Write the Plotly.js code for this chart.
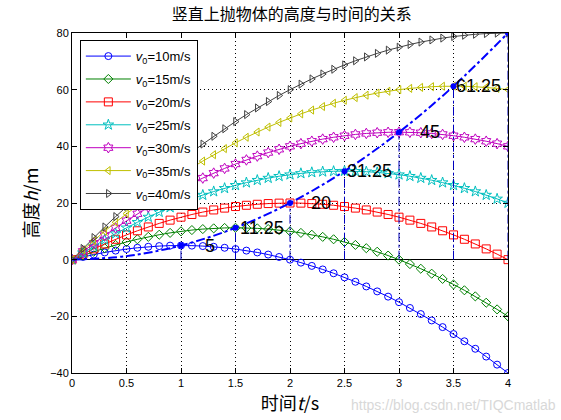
<!DOCTYPE html>
<html><head><meta charset="utf-8">
<script src="https://cdn.plot.ly/plotly-3.0.1.min.js"></script>
<style>html,body{margin:0;padding:0;background:#fff}#chart{width:561px;height:420px}</style>
</head><body><div id="chart"></div>
<script>
const t = [0,0.1,0.2,0.3,0.4,0.5,0.6,0.7,0.8,0.9,1,1.1,1.2,1.3,1.4,1.5,1.6,1.7,1.8,1.9,2,2.1,2.2,2.3,2.4,2.5,2.6,2.7,2.8,2.9,3,3.1,3.2,3.3,3.4,3.5,3.6,3.7,3.8,3.9,4];
const h10 = [0,0.95,1.8,2.55,3.2,3.75,4.2,4.55,4.8,4.95,5,4.95,4.8,4.55,4.2,3.75,3.2,2.55,1.8,0.95,0,-1.05,-2.2,-3.45,-4.8,-6.25,-7.8,-9.45,-11.2,-13.05,-15,-17.05,-19.2,-21.45,-23.8,-26.25,-28.8,-31.45,-34.2,-37.05,-40];
const h15 = [0,1.45,2.8,4.05,5.2,6.25,7.2,8.05,8.8,9.45,10,10.45,10.8,11.05,11.2,11.25,11.2,11.05,10.8,10.45,10,9.45,8.8,8.05,7.2,6.25,5.2,4.05,2.8,1.45,0,-1.55,-3.2,-4.95,-6.8,-8.75,-10.8,-12.95,-15.2,-17.55,-20];
const h20 = [0,1.95,3.8,5.55,7.2,8.75,10.2,11.55,12.8,13.95,15,15.95,16.8,17.55,18.2,18.75,19.2,19.55,19.8,19.95,20,19.95,19.8,19.55,19.2,18.75,18.2,17.55,16.8,15.95,15,13.95,12.8,11.55,10.2,8.75,7.2,5.55,3.8,1.95,0];
const h25 = [0,2.45,4.8,7.05,9.2,11.25,13.2,15.05,16.8,18.45,20,21.45,22.8,24.05,25.2,26.25,27.2,28.05,28.8,29.45,30,30.45,30.8,31.05,31.2,31.25,31.2,31.05,30.8,30.45,30,29.45,28.8,28.05,27.2,26.25,25.2,24.05,22.8,21.45,20];
const h30 = [0,2.95,5.8,8.55,11.2,13.75,16.2,18.55,20.8,22.95,25,26.95,28.8,30.55,32.2,33.75,35.2,36.55,37.8,38.95,40,40.95,41.8,42.55,43.2,43.75,44.2,44.55,44.8,44.95,45,44.95,44.8,44.55,44.2,43.75,43.2,42.55,41.8,40.95,40];
const h35 = [0,3.45,6.8,10.05,13.2,16.25,19.2,22.05,24.8,27.45,30,32.45,34.8,37.05,39.2,41.25,43.2,45.05,46.8,48.45,50,51.45,52.8,54.05,55.2,56.25,57.2,58.05,58.8,59.45,60,60.45,60.8,61.05,61.2,61.25,61.2,61.05,60.8,60.45,60];
const h40 = [0,3.95,7.8,11.55,15.2,18.75,22.2,25.55,28.8,31.95,35,37.95,40.8,43.55,46.2,48.75,51.2,53.55,55.8,57.95,60,61.95,63.8,65.55,67.2,68.75,70.2,71.55,72.8,73.95,75,75.95,76.8,77.55,78.2,78.75,79.2,79.55,79.8,79.95,80];
const seriesNames = ['<i>v</i><sub>0</sub>=10m/s','<i>v</i><sub>0</sub>=15m/s','<i>v</i><sub>0</sub>=20m/s','<i>v</i><sub>0</sub>=25m/s','<i>v</i><sub>0</sub>=30m/s','<i>v</i><sub>0</sub>=35m/s','<i>v</i><sub>0</sub>=40m/s'];
// curve of maximum heights
const envT = [0,0.5,1,1.5,2,2.5,3,3.5,4];
const envH = [0,1.25,5,11.25,20,31.25,45,61.25,80];
// peaks with labels
const peakT = [1,1.5,2,2.5,3,3.5,4];
const peakH = [5,11.25,20,31.25,45,61.25,80];
const peakLabels = ['5','11.25','20','31.25','45','61.25','80'];
const labelT = [1.2,1.52,2.17,2.5,3.17,3.5,4.17];

const colors = ['#0000ff','#008000','#ff0000','#00bfbf','#bf00bf','#bfbf00','#404040'];
const symbols = ['circle-open','diamond-open','square-open','star-open','hexagram-open','triangle-left-open','triangle-right-open'];
const sizes = [7,7,8,8,8,7,7];
const allH = [h10,h15,h20,h25,h30,h35,h40];

const traces = allH.map((h,i)=>({
  x:t, y:h, name:seriesNames[i], legendgroup:'g'+i, type:'scatter', mode:'lines+markers',
  line:{color:colors[i], width:1},
  marker:{symbol:symbols[i], size:sizes[i], color:colors[i], line:{width:1, color:colors[i]}}
}));

// vertical dash-dot lines from peaks down to zero
const vx=[], vy=[];
peakT.forEach((tt,i)=>{vx.push(tt,tt,null); vy.push(0,peakH[i],null);});
traces.push({x:vx,y:vy,type:'scatter',mode:'lines',showlegend:false,hoverinfo:'skip',
  line:{color:'#0000c0',width:1,dash:'dashdot'}});
traces.push({x:envT,y:envH,type:'scatter',mode:'lines',showlegend:false,
  line:{color:'#0000ff',width:2,dash:'dashdot',shape:'spline'}});
traces.push({x:peakT,y:peakH,type:'scatter',mode:'markers',showlegend:false,
  marker:{color:'#0000ff',size:6,symbol:'circle'}});

const annotations = peakLabels.map((s,i)=>({
  x:labelT[i], y:peakH[i], xref:'x', yref:'y', text:s, showarrow:false,
  xanchor:'left', yanchor:'middle', font:{size:18,color:'#000',family:'Liberation Sans, Arial, sans-serif'}
}));
annotations.push({x:1, y:0, xref:'paper', yref:'paper', xanchor:'right', yanchor:'top', yshift:-22, xshift:50,
  text:'https://blog.csdn.net/TIQCmatlab', showarrow:false,
  font:{size:14,color:'#d8d8d8',family:'Liberation Sans, Arial, sans-serif'}});

const axisCommon = {
  showline:true, linecolor:'#000', linewidth:1, mirror:'ticks',
  ticks:'inside', ticklen:5, tickcolor:'#000',
  showgrid:true, gridcolor:'#000', griddash:'1px,3px', gridwidth:1,
  tickfont:{size:11,color:'#000',family:'Liberation Sans, Arial, sans-serif'}
};
const layout = {
  width:561, height:420,
  margin:{l:72,r:53,t:33,b:47},
  paper_bgcolor:'#fff', plot_bgcolor:'#fff',
  font:{family:'Liberation Sans, Noto Sans CJK SC, sans-serif', color:'#000'},
  title:{text:'竖直上抛物体的高度与时间的关系', x:0.52, xanchor:'center', y:0.965, yanchor:'middle',
    font:{size:16,family:'Noto Sans CJK SC, sans-serif',color:'#000'}},
  xaxis:Object.assign({}, axisCommon, {range:[0,4], tick0:0, dtick:0.5, zeroline:false,
    title:{text:'时间<i>t</i>/s', standoff:4, font:{size:18,family:'Noto Sans CJK SC, Liberation Sans, sans-serif'}}}),
  yaxis:Object.assign({}, axisCommon, {range:[-40,80], tick0:-40, dtick:20,
    zeroline:true, zerolinecolor:'#000', zerolinewidth:1,
    title:{text:'高度<i>h</i>/m', standoff:6, font:{size:18,family:'Noto Sans CJK SC, Liberation Sans, sans-serif'}}}),
  legend:{x:0.018, y:0.979, xanchor:'left', yanchor:'top', bgcolor:'#fff', bordercolor:'#000', borderwidth:1,
    font:{size:13,family:'Liberation Sans, Arial, sans-serif',color:'#000'}, itemwidth:45, tracegroupgap:3},
  annotations:annotations,
  showlegend:true
};
Plotly.newPlot('chart', traces, layout, {staticPlot:true, displayModeBar:false});
</script></body></html>
